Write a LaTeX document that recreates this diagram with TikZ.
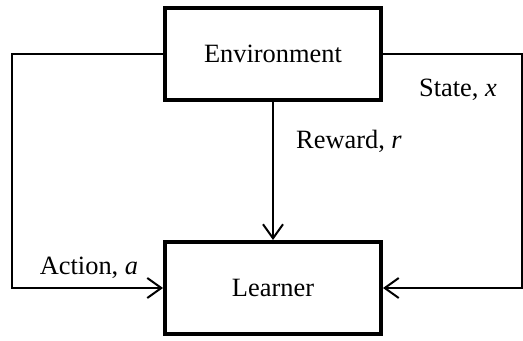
\documentclass[tikz,border=0pt]{standalone}
\usepackage{fontspec}
\setmainfont{Liberation Serif}
\usetikzlibrary{arrows.meta}

\tikzset{
	block/.style={draw, line width=2pt, minimum width=108pt, minimum height=46pt, font=\fontsize{13.2}{15}\selectfont},
	link/.style={line width=1pt, -{Straight Barb[length=7pt, width=10pt, line width=1pt]}},
	lbl/.style={font=\fontsize{13.2}{15}\selectfont}
}

\begin{document}
\begin{tikzpicture}[x=0.5pt, y=-0.5pt]
		\useasboundingbox (0,0) rectangle (523,341);

		% The two blocks
		\node[block] (env) at (273,54) {Environment};
		\node[block] (learner) at (273,288) {Learner};

		% Corners of the outer loop
		\coordinate (lc) at (12,54);
		\coordinate (rc) at (521.5,54);

		% Action goes round the left side
		\draw[link] (env.west) -- (lc) |- (learner.west);
		\node[lbl] (action) at (89,268) {Action, \textit{a}};

		% State goes round the right side
		\draw[link] (env.east) -- (rc) |- (learner.east);
		\node[lbl] (state) at (458,90) {State, \textit{x}};

		% Reward straight down
		\draw[link] (env.south) -- (learner.north);
		\node[lbl] (reward) at (349,141) {Reward, \textit{r}};
	\end{tikzpicture}
\end{document}
